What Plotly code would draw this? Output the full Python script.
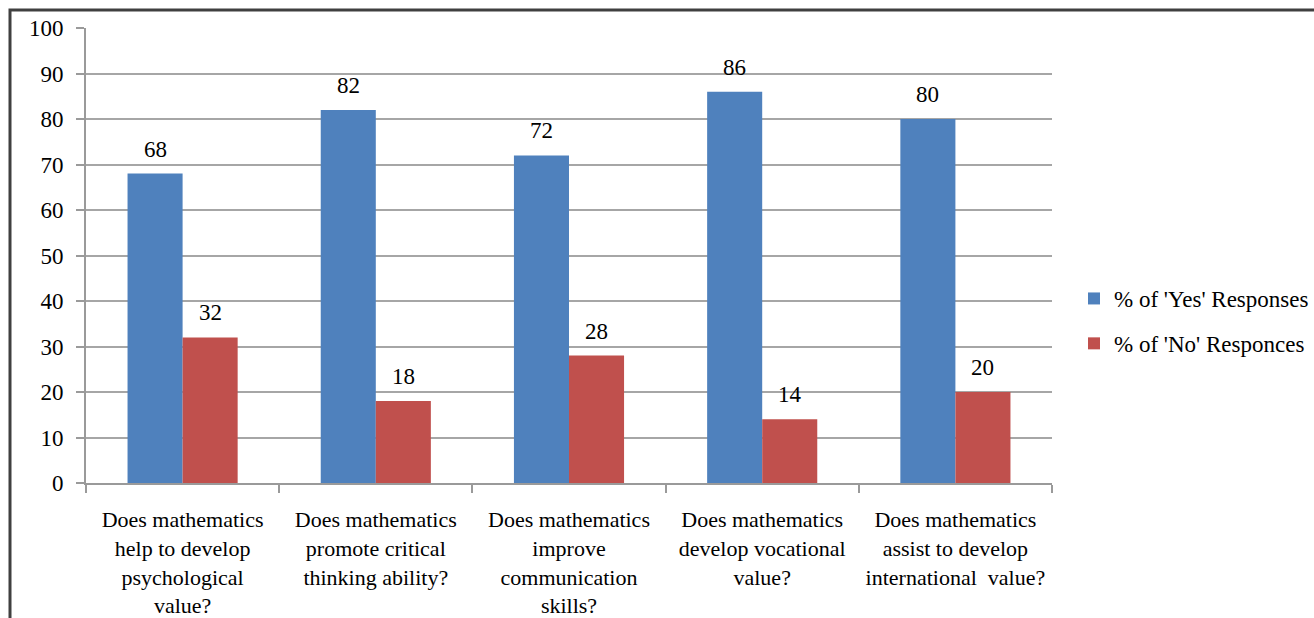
import plotly.graph_objects as go

categories = [
    "Does mathematics<br>help to develop<br>psychological<br>value?",
    "Does mathematics<br>promote critical<br>thinking ability?",
    "Does mathematics<br>improve<br>communication<br>skills?",
    "Does mathematics<br>develop vocational<br>value?",
    "Does mathematics<br>assist to develop<br>international  value?",
]
yes_values = [68, 82, 72, 86, 80]
no_values = [32, 18, 28, 14, 20]
y_ticks = list(range(0, 101, 10))

W, H = 1314, 618
L, R, T, B = 86, 262, 28, 135
pw, ph = W - L - R, H - T - B
BARGAP = 0.43
bar_px = pw / len(categories) * (1 - BARGAP) / 2

font_family = "Liberation Serif"

fig = go.Figure()
fig.add_trace(go.Bar(
    x=categories, y=yes_values, name="% of 'Yes' Responses",
    marker=dict(color="#4F81BD", line=dict(width=0)),
    legendgroup="a",
))
fig.add_trace(go.Bar(
    x=categories, y=no_values, name="% of 'No' Responces",
    marker=dict(color="#C0504D", line=dict(width=0)),
    legendgroup="b",
))

annotations = []
for vals, sign in ((yes_values, -1), (no_values, 1)):
    for c, v in zip(categories, vals):
        annotations.append(dict(
            x=c, y=v, xref="x", yref="y", text=str(v), showarrow=False,
            xanchor="center", yanchor="bottom", xshift=sign * bar_px / 2, yshift=10,
            font=dict(size=23, family=font_family, color="black"),
        ))

fig.update_layout(
    width=W, height=H,
    margin=dict(l=L, r=R, t=T, b=B, autoexpand=False),
    paper_bgcolor="white", plot_bgcolor="white",
    barmode="group", bargap=BARGAP, bargroupgap=0,
    font=dict(family=font_family, size=22, color="black"),
    showlegend=True,
    legend=dict(
        x=(1074 - L) / pw, y=(483 - 321) / ph, xanchor="left", yanchor="middle",
        font=dict(size=23, family=font_family, color="black"),
        tracegroupgap=12, itemwidth=30, bgcolor="rgba(0,0,0,0)",
    ),
    xaxis=dict(
        showgrid=False, showline=True, linecolor="#9a9a9a", linewidth=2,
        ticks="outside", tickson="boundaries", ticklen=8, tickcolor="#9a9a9a", tickwidth=2,
        tickfont=dict(size=22, family=font_family, color="black"),
        tickangle=0, ticklabelstandoff=16,
    ),
    yaxis=dict(
        range=[0, 100], tickvals=y_ticks, showgrid=True, gridcolor="#a6a6a6", gridwidth=2,
        showline=True, linecolor="#9a9a9a", linewidth=2,
        ticks="outside", ticklen=8, tickcolor="#9a9a9a", tickwidth=2,
        tickfont=dict(size=23, family=font_family, color="black"),
        zeroline=False, ticklabelstandoff=8,
    ),
    annotations=annotations,
    shapes=[
        dict(type="rect", xref="paper", yref="paper",
             x0=(10 - L) / pw, x1=(W + 20 - L) / pw,
             y0=(H - B - (H + 20)) / ph, y1=(H - B - 10) / ph,
             line=dict(color="#404040", width=3), fillcolor="rgba(0,0,0,0)", layer="above"),
    ],
)

fig.write_html("out.html")
